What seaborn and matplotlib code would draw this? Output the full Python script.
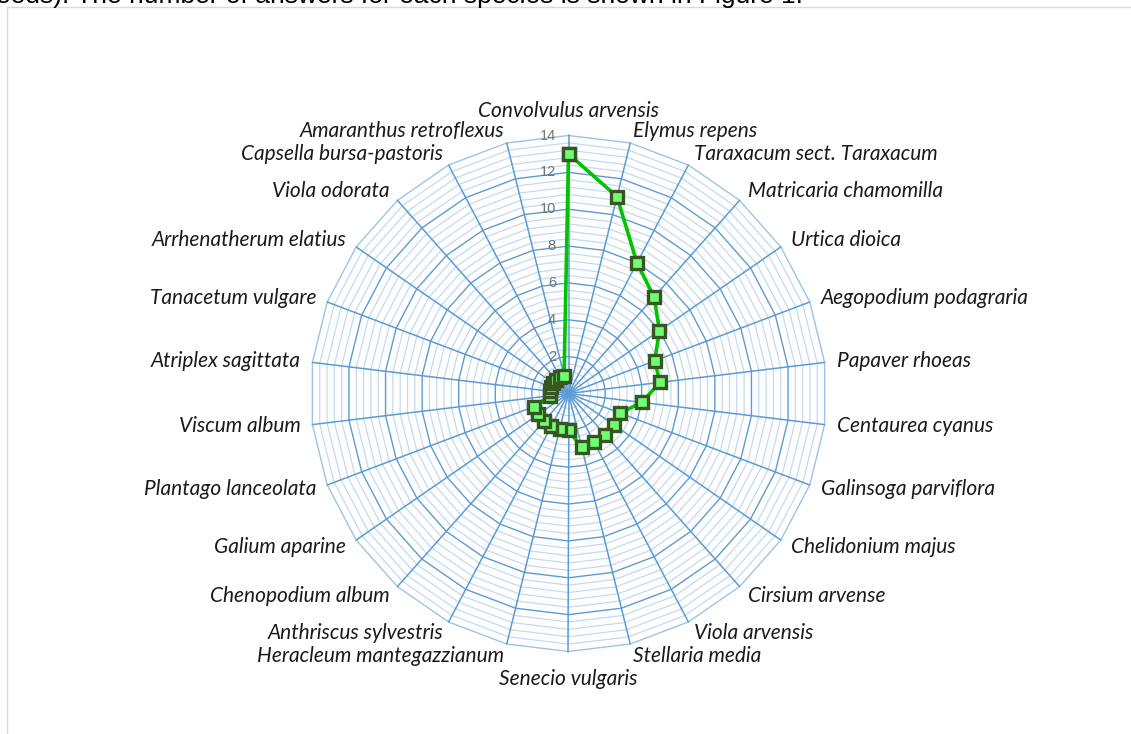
import numpy as np
import pandas as pd
import matplotlib
matplotlib.use("Agg")
import matplotlib.pyplot as plt
import seaborn as sns

# Species and number of answers (clockwise from the top)
species = [
    "Convolvulus arvensis", "Elymus repens", "Taraxacum sect. Taraxacum",
    "Matricaria chamomilla", "Urtica dioica", "Aegopodium podagraria",
    "Papaver rhoeas", "Centaurea cyanus", "Galinsoga parviflora",
    "Chelidonium majus", "Cirsium arvense", "Viola arvensis",
    "Stellaria media", "Senecio vulgaris", "Heracleum mantegazzianum",
    "Anthriscus sylvestris", "Chenopodium album", "Galium aparine",
    "Plantago lanceolata", "Viscum album", "Atriplex sagittata",
    "Tanacetum vulgare", "Arrhenatherum elatius", "Viola odorata",
    "Capsella bursa-pastoris", "Amaranthus retroflexus",
]
answers = [13, 11, 8, 7, 6, 5, 5, 4, 3, 3, 3, 3, 3, 2, 2, 2, 2, 2, 2,
           1, 1, 1, 1, 1, 1, 1]
axis_ticks = [0, 2, 4, 6, 8, 10, 12, 14]
header = "weeds). The number of answers for each species is shown in Figure 1."

sns.set_style("white")
plt.rcParams["font.family"] = ["Lato", "DejaVu Sans"]

W, H = 1131, 734
fig = plt.figure(figsize=(W / 100, H / 100), dpi=100)

# pixel geometry of the radar
cx, cy = 568.5, 393.5
rmax = axis_ticks[-1]
unit = 258.0 / rmax           # pixels per answer
ax = fig.add_axes([0, 0, 1, 1])
ax.set_xlim(-cx / unit, (W - cx) / unit)
ax.set_ylim(-(H - cy) / unit, cy / unit)
ax.axis("off")

n = len(species)
theta = 2 * np.pi * np.arange(n) / n
sx, sy = np.sin(theta), np.cos(theta)

def ring(r):
    xs = np.append(r * sx, r * sx[0])
    ys = np.append(r * sy, r * sy[0])
    return xs, ys

# minor rings (every 0.4)
minor_step = (axis_ticks[1] - axis_ticks[0]) / 5
for i in range(1, int(round(rmax / minor_step)) + 1):
    r = i * minor_step
    if abs(r / 2 - round(r / 2)) < 1e-6:
        continue
    xs, ys = ring(r)
    ax.plot(xs, ys, color="#C4D9F0", lw=0.9, zorder=1)

# major rings
for r in axis_ticks[1:]:
    xs, ys = ring(r)
    ax.plot(xs, ys, color="#9DC3E6" if r == rmax else "#5B9BD5",
            lw=1.0, zorder=2)

# spokes
for i in range(n):
    ax.plot([0, rmax * sx[i]], [0, rmax * sy[i]], color="#5B9BD5",
            lw=1.1, zorder=2)

# value axis labels
for t in axis_ticks:
    ax.text(-12.5 / unit, t, str(t), ha="right", va="center",
            fontsize=10.5, color="#737373", family=["Liberation Sans"],
            zorder=3)

# data series
vals = np.array(answers, dtype=float)
df = pd.DataFrame({
    "x": np.append(vals * sx, vals[0] * sx[0]),
    "y": np.append(vals * sy, vals[0] * sy[0]),
    "order": np.arange(n + 1),
})
sns.lineplot(data=df, x="x", y="y", sort=False, estimator=None, ax=ax,
             color="#00C400", lw=2.6, marker="s", markersize=8,
             markerfacecolor="#70FF70", markeredgecolor="#375623",
             markeredgewidth=2.4, zorder=5)
ax.set_xlabel("")
ax.set_ylabel("")

# category labels
fs = 15
off = 12.0 / unit
for i, name in enumerate(species):
    x0, y0 = rmax * sx[i], rmax * sy[i]
    if abs(sx[i]) < 1e-6:
        if sy[i] > 0:
            ax.text(x0, y0 + 0.8, name, ha="center", va="bottom",
                    fontsize=fs, style="italic", color="#1a1a1a")
        else:
            ax.text(x0, y0 - 0.95, name, ha="center", va="top",
                    fontsize=fs, style="italic", color="#1a1a1a")
        continue
    ha = "left" if sx[i] > 0 else "right"
    ax.text(x0 + off * sx[i], y0 + off * sy[i], name, ha=ha, va="center",
            fontsize=fs, style="italic", color="#1a1a1a")

# surrounding frame and running text above it
fig.add_artist(plt.Line2D([6.5 / W, 6.5 / W], [0, 1 - 6.5 / H],
                          transform=fig.transFigure, color="#D9D9D9", lw=1.0))
fig.add_artist(plt.Line2D([6.5 / W, 1], [1 - 6.5 / H, 1 - 6.5 / H],
                          transform=fig.transFigure, color="#D9D9D9", lw=1.0))
fig.text(803 / W, 1 - 3.5 / H, header, ha="right", va="baseline",
         fontsize=19, color="#000000", family=["Liberation Sans"])

fig.savefig("out.png", dpi=100, facecolor="white")
